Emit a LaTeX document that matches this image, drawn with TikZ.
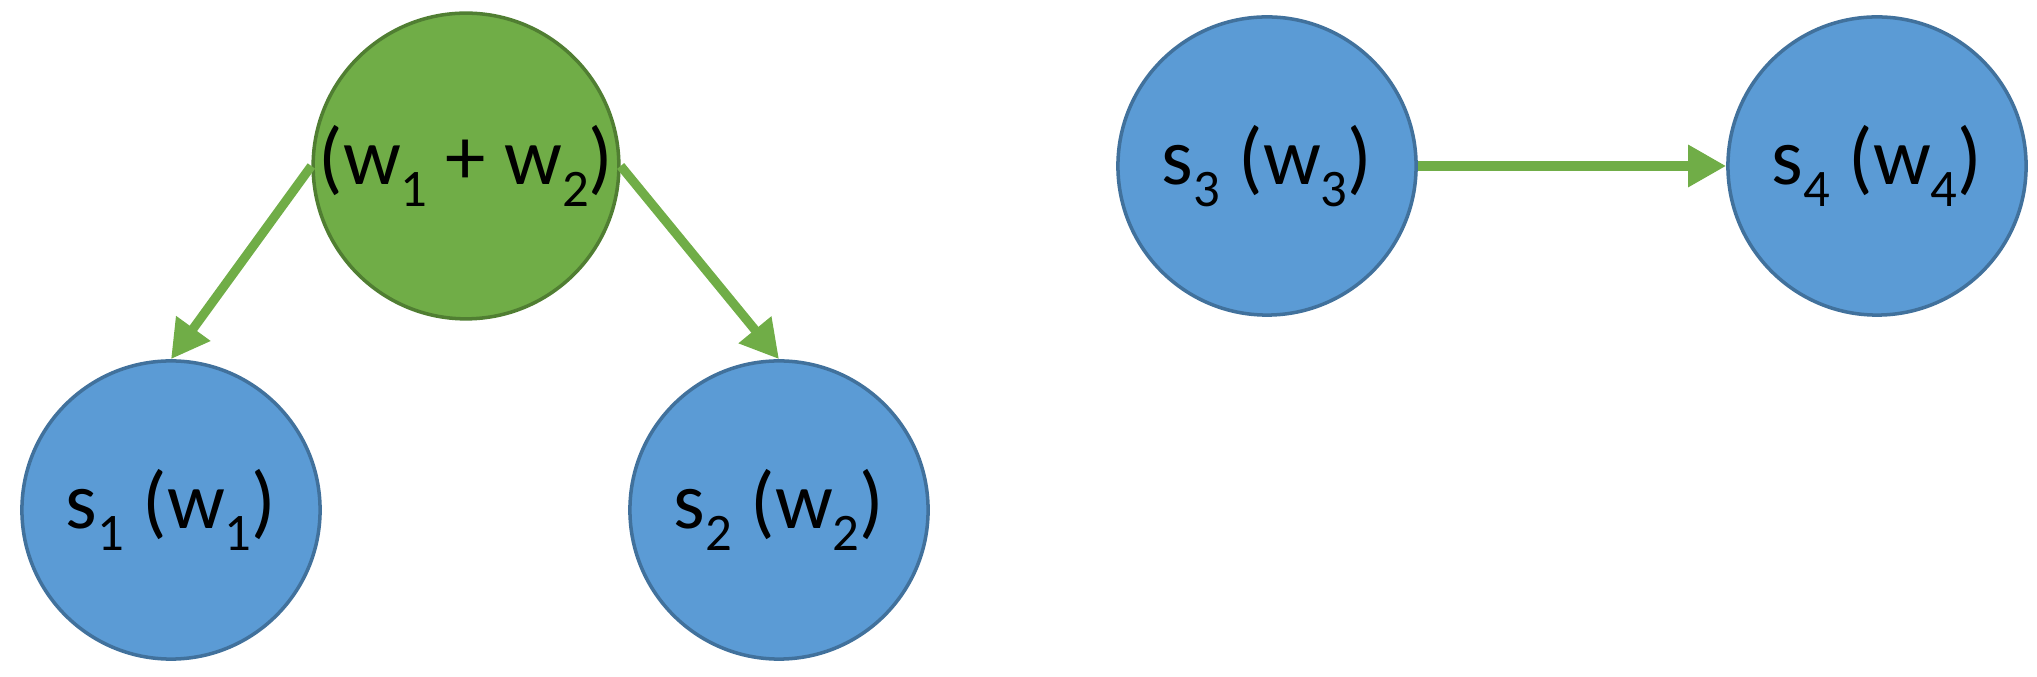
\documentclass[tikz,border=0pt]{standalone}
\usepackage{fontspec}
\setmainfont{Carlito}
\usetikzlibrary{arrows.meta}
\definecolor{nodegreen}{HTML}{70AD47}
\definecolor{greenborder}{HTML}{507E32}
\definecolor{nodeblue}{HTML}{5B9BD5}
\definecolor{blueborder}{HTML}{41719C}
\newcommand\lowsub[1]{\raisebox{-0.28em}{\fontsize{15}{15}\selectfont #1}}
\tikzset{
  bluenode/.style={circle, draw=blueborder, fill=nodeblue, line width=1pt, minimum size=2.98cm, inner sep=0pt, font=\fontsize{23}{23}\selectfont},
  greennode/.style={circle, draw=greenborder, fill=nodegreen, line width=1pt, minimum size=2.98cm, inner sep=0pt, font=\fontsize{23}{23}\selectfont},
  link/.style={draw=nodegreen, line width=2.6pt, -{Triangle[length=0.38cm, width=0.4cm]}}
}
\begin{document}
\begin{tikzpicture}[x=0.01cm, y=-0.01cm]
\useasboundingbox (0,0) rectangle (2037,677);
\node[greennode] (g) at (466,166) {(w\lowsub{1} + w\lowsub{2})};
\node[bluenode] (s1) at (171,510) {s\lowsub{1} (w\lowsub{1})};
\node[bluenode] (s2) at (779,510) {s\lowsub{2} (w\lowsub{2})};
\node[bluenode] (s3) at (1267,166) {s\lowsub{3} (w\lowsub{3})};
\node[bluenode] (s4) at (1877,166) {s\lowsub{4} (w\lowsub{4})};
\draw[link] (g.west) -- (s1.north);
\draw[link] (g.east) -- (s2.north);
\draw[link] (s3.east) -- (s4.west);
\end{tikzpicture}
\end{document}
